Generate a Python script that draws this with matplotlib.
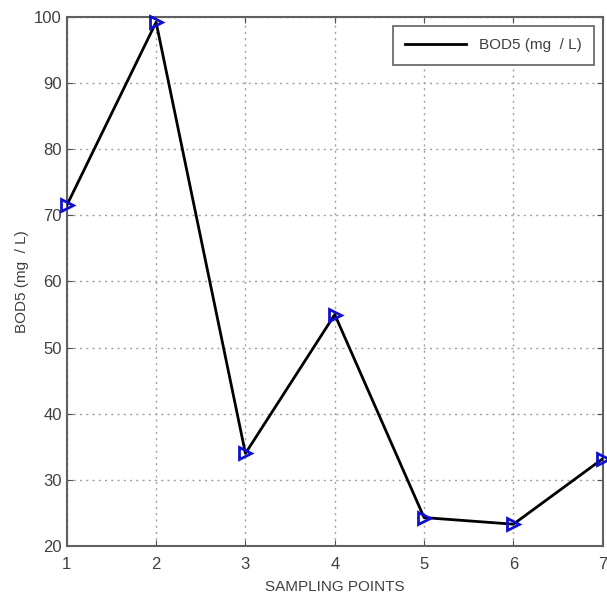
import matplotlib
matplotlib.use("Agg")
import matplotlib.pyplot as plt
from matplotlib.lines import Line2D

plt.rcParams['font.family'] = ['Liberation Sans', 'DejaVu Sans']

puntos = [1, 2, 3, 4, 5, 6, 7]
bod5 = [71.5, 99.2, 34.0, 55.0, 24.3, 23.3, 33.2]

fig = plt.figure(figsize=(6.07, 6.04), dpi=100)
ax = fig.add_axes([0.110, 0.096, 0.883, 0.876])

ax.plot(puntos, bod5, color='black', lw=2, zorder=3)
ax.plot(puntos, bod5, ls='none', marker='>', ms=9, mfc='none', mec='#1010d0',
        mew=2, zorder=4, clip_on=False)

ax.set_xlim(1, 7)
ax.set_ylim(20, 100)
ax.set_xticks(puntos)
ax.set_yticks(range(20, 101, 10))
ax.grid(True, ls=(0, (1.5, 3)), color='#a0a0a0', lw=1)
ax.tick_params(direction='in', length=4, colors='#505050', labelsize=12,
               labelcolor='#404040', top=True, right=True)
ax.tick_params(axis='x', pad=8)
for s in ax.spines.values():
    s.set_color('#606060')
    s.set_linewidth(1.5)

ax.set_xlabel('SAMPLING POINTS', fontsize=11, color='#404040', labelpad=6)
ax.set_ylabel('BOD5 (mg  / L)', fontsize=11, color='#404040')

handle = Line2D([], [], color='black', lw=2)
leg = ax.legend([handle], ['BOD5 (mg  / L)'], loc='upper right', fontsize=11,
                fancybox=False, edgecolor='#606060', framealpha=1,
                handlelength=4, borderpad=0.8, borderaxespad=0.6)
leg.get_frame().set_linewidth(1.2)
for t in leg.get_texts():
    t.set_color('#404040')

fig.savefig('out.png', dpi=100)
